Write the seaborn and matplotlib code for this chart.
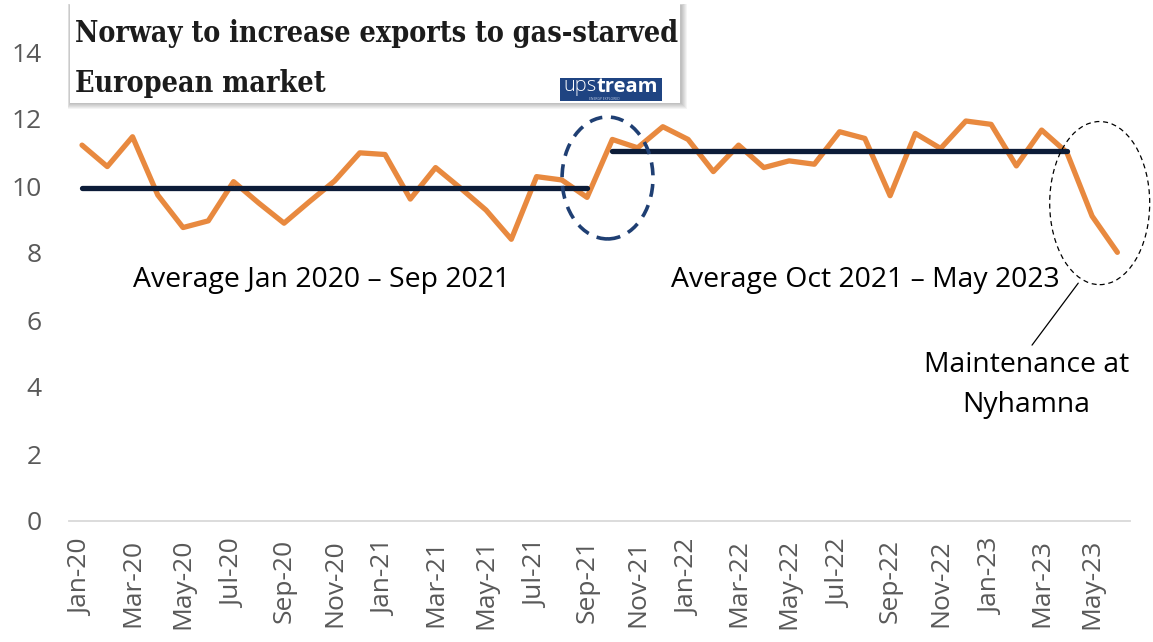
import matplotlib
matplotlib.use("Agg")
import matplotlib.pyplot as plt
from matplotlib.patches import Ellipse, Rectangle
from matplotlib import font_manager
import pandas as pd
import seaborn as sns

# Monthly Norwegian gas exports
months = ["Jan-20", "Feb-20", "Mar-20", "Apr-20", "May-20", "Jun-20", "Jul-20", "Aug-20",
          "Sep-20", "Oct-20", "Nov-20", "Dec-20", "Jan-21", "Feb-21", "Mar-21", "Apr-21",
          "May-21", "Jun-21", "Jul-21", "Aug-21", "Sep-21", "Oct-21", "Nov-21", "Dec-21",
          "Jan-22", "Feb-22", "Mar-22", "Apr-22", "May-22", "Jun-22", "Jul-22", "Aug-22",
          "Sep-22", "Oct-22", "Nov-22", "Dec-22", "Jan-23", "Feb-23", "Mar-23", "Apr-23",
          "May-23", "Jun-23"]
exports = [11.22, 10.58, 11.47, 9.73, 8.76, 8.96, 10.13, 9.49, 8.89, 9.53, 10.15, 10.99,
           10.94, 9.61, 10.55, 9.93, 9.28, 8.41, 10.28, 10.18, 9.66, 11.39, 11.14, 11.77,
           11.39, 10.43, 11.22, 10.55, 10.75, 10.65, 11.62, 11.42, 9.71, 11.57, 11.12, 11.94,
           11.84, 10.60, 11.67, 11.00, 9.10, 8.02]
y_ticks = [0, 2, 4, 6, 8, 10, 12, 14]

# Averaging periods and the span each average bar is drawn over
avg_periods = [("Jan-20", "Sep-21"), ("Oct-21", "May-23")]
avg_spans = [("Jan-20", "Sep-21"), ("Oct-21", "Apr-23")]
avg_labels = ["Average Jan 2020 \u2013 Sep 2021", "Average Oct 2021 \u2013 May 2023"]
note_lines = ["Maintenance at", "Nyhamna"]
headline = ["Norway to increase exports to gas-starved", "European market"]

W, H = 1153, 642
sns.set_theme(style="white")
plt.rcParams["font.family"] = ["Open Sans", "DejaVu Sans"]

df = pd.DataFrame({"month": months, "idx": range(len(months)), "exports": exports})
pos = {m: i for i, m in enumerate(months)}

fig = plt.figure(figsize=(W / 100, H / 100), dpi=100)
fig.patch.set_facecolor("white")
ax = fig.add_axes([69.4 / W, 121 / H, (1130 - 69.4) / W, 469 / H])
renderer = fig.canvas.get_renderer()

sns.lineplot(data=df, x="idx", y="exports", ax=ax, color="#E8893F", linewidth=3.8,
             solid_capstyle="round", solid_joinstyle="round", zorder=3)

for (a, b), (s, e) in zip(avg_periods, avg_spans):
    mean = df.loc[pos[a]:pos[b], "exports"].mean()
    seg = pd.DataFrame({"idx": [pos[s], pos[e]], "avg": [mean, mean]})
    sns.lineplot(data=seg, x="idx", y="avg", ax=ax, color="#0C1C38", linewidth=3.8,
                 solid_capstyle="round", zorder=4)

ax.set_xlim(-0.5, len(months) - 0.5)
ax.set_ylim(0, 14)
ax.set_xlabel("")
ax.set_ylabel("")
ax.set_yticks(y_ticks)
ax.set_yticklabels([str(v) for v in y_ticks])
ax.set_xticks(range(0, len(months), 2))
ax.set_xticklabels(months[::2], rotation=90)
ax.tick_params(axis="y", length=0, pad=20, labelsize=19, labelcolor="#595959")
ax.tick_params(axis="x", length=0, pad=13, labelsize=19, labelcolor="#595959")
for side in ["left", "right", "top"]:
    ax.spines[side].set_visible(False)
ax.spines["bottom"].set_color("#D9D9D9")
ax.spines["bottom"].set_linewidth(1.3)
ax.grid(False)

# Highlight rings
ax.add_patch(Ellipse((20.81, 10.24), 3.6, 3.64, fill=False, ec="#1F3F73", lw=2.6,
                     ls=(0, (3.6, 2.4)), zorder=5))
ax.add_patch(Ellipse((40.3, 9.49), 3.96, 4.87, fill=False, ec="black", lw=0.9,
                     ls=(0, (4, 3)), zorder=5, clip_on=False))
ax.plot([39.45, 37.62], [7.10, 5.25], color="black", lw=0.9, zorder=5)

# Period labels
t1 = ax.text(9.5, 6.99, avg_labels[0], ha="center", va="baseline", fontsize=18, color="black")
w = t1.get_window_extent(renderer).width
lab_size = 18 * 377 / w
t1.set_fontsize(lab_size)
ax.text(31.0, 6.99, avg_labels[1], ha="center", va="baseline", fontsize=lab_size, color="black")
ax.text(37.39, 4.45, note_lines[0], ha="center", va="baseline", fontsize=lab_size, color="black")
ax.text(37.39, 3.25, note_lines[1], ha="center", va="baseline", fontsize=lab_size, color="black")

# Headline card with soft shadow
def fig_rect(x0, y0, x1, y1, **kw):
    return Rectangle((x0 / W, 1 - y1 / H), (x1 - x0) / W, (y1 - y0) / H,
                     transform=fig.transFigure, **kw)

for k in range(6, 0, -1):
    fig.add_artist(fig_rect(70 - k * 0.4, 5 - k * 0.2, 681 + k, 103 + k,
                            fc="#000000", ec="none", alpha=0.045, zorder=5))
fig.add_artist(fig_rect(70, 4, 680, 103, fc="white", ec="none", zorder=6))


def headline_font():
    for f in font_manager.fontManager.ttflist:
        if (f.name.startswith("DejaVu Serif") and str(f.stretch) == "condensed"
                and f.weight in (700, "bold") and f.style == "normal"):
            return font_manager.FontProperties(fname=f.fname)
    return font_manager.FontProperties(family="Liberation Serif", weight="bold")


hp = headline_font()
h1 = fig.text(75 / W, 1 - 42 / H, headline[0], fontproperties=hp, fontsize=24,
              color="#1C1C1C", ha="left", va="baseline", zorder=7)
hw = h1.get_window_extent(renderer).width
head_size = 24 * 603 / hw
h1.set_fontsize(head_size)
fig.text(75 / W, 1 - 92 / H, headline[1], fontproperties=hp, fontsize=head_size,
         color="#1C1C1C", ha="left", va="baseline", zorder=7)

# Publisher badge
fig.add_artist(fig_rect(560, 78, 662, 101, fc="#1F4482", ec="none", zorder=7))
u1 = fig.text(563 / W, 1 - 91.5 / H, "ups", fontsize=13, color="white", ha="left",
              va="baseline", zorder=8, fontweight="light")
u1w = u1.get_window_extent(renderer)
u2 = fig.text(u1w.x1 / W, 1 - 91.5 / H, "tream", fontsize=13, color="white", ha="left",
              va="baseline", zorder=8, fontweight="bold")
total = u2.get_window_extent(renderer).x1 - u1w.x0
badge_size = 13 * 94 / total
u1.set_fontsize(badge_size)
u1w = u1.get_window_extent(renderer)
u2.set_fontsize(badge_size)
u2.set_x(u1w.x1 / W)
fig.text(604 / W, 1 - 100.3 / H, "ENERGY EXPLORED", fontsize=2.4, color="#C8D2E6",
         ha="center", va="baseline", zorder=8)

fig.savefig("out.png", dpi=100, facecolor="white")
